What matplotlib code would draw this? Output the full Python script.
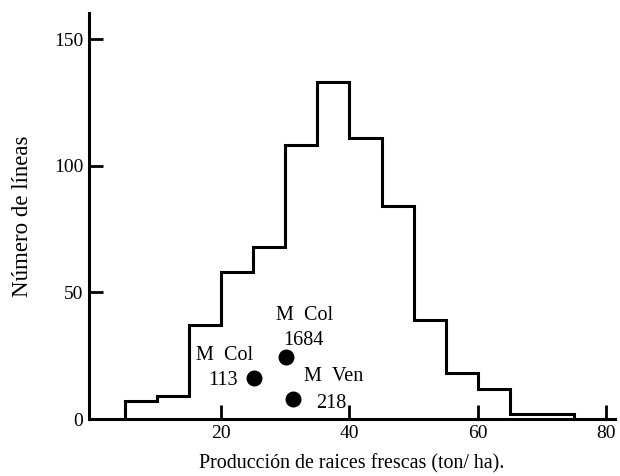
import matplotlib
matplotlib.use("Agg")
import matplotlib.pyplot as plt
import numpy as np

# Frequency distribution of fresh root yield (5 t/ha classes)
bin_edges = [5, 10, 15, 20, 25, 30, 35, 40, 45, 50, 55, 60, 65, 70, 75]
counts = [7, 9, 37, 58, 68, 108, 133, 111, 84, 39, 18, 12, 2, 2]

# Check varieties
check_names = ["M\u2002Col", "M\u2002Col", "M\u2002Ven"]
check_codes = ["113", "1684", "218"]
check_yield = [25.1, 30.1, 31.2]
check_count = [16.2, 24.5, 7.9]

x_ticks = [20, 40, 60, 80]
y_ticks = [0, 50, 100, 150]

plt.rcParams["font.family"] = ["Liberation Serif", "DejaVu Serif"]

fig = plt.figure(figsize=(6.2, 4.76), dpi=100)
ax = fig.add_axes([0.1435, 0.1197, 0.8485, 0.853])

# step outline of the histogram, closed down to the baseline at both ends
xs = np.repeat(bin_edges, 2)
ys = np.concatenate([[0], np.repeat(counts, 2), [0]])
ax.plot(xs, ys, color="black", lw=2.2, solid_joinstyle="miter")

ax.scatter(check_yield, check_count, s=110, color="black", zorder=3)

# two-line labels beside each check dot (offsets in points)
name_offsets = [(-21.2, 13.0), (13.7, 26.6), (29.5, 13.0)]
code_offsets = [(-22.3, -5.0), (12.6, 8.6), (27.4, -6.5)]
for i in range(len(check_names)):
    pt = (check_yield[i], check_count[i])
    ax.annotate(check_names[i], pt, xytext=name_offsets[i],
                textcoords="offset points", ha="center", va="baseline",
                fontsize=14.5)
    ax.annotate(check_codes[i], pt, xytext=code_offsets[i],
                textcoords="offset points", ha="center", va="baseline",
                fontsize=14.5)

ax.set_xlim(-0.6, 81.4)
ax.set_ylim(0, 160.3)
ax.set_xticks(x_ticks)
ax.set_yticks(y_ticks)
ax.tick_params(direction="in", length=10, width=2, labelsize=14, pad=4)
for side in ("top", "right"):
    ax.spines[side].set_visible(False)
for side in ("left", "bottom"):
    ax.spines[side].set_linewidth(2.2)

ax.set_xlabel("Producción de raices frescas (ton/ ha).", fontsize=14.4, labelpad=9)
ax.set_ylabel("Número de líneas", fontsize=16.5, labelpad=15)

fig.savefig("out.png", dpi=100)
